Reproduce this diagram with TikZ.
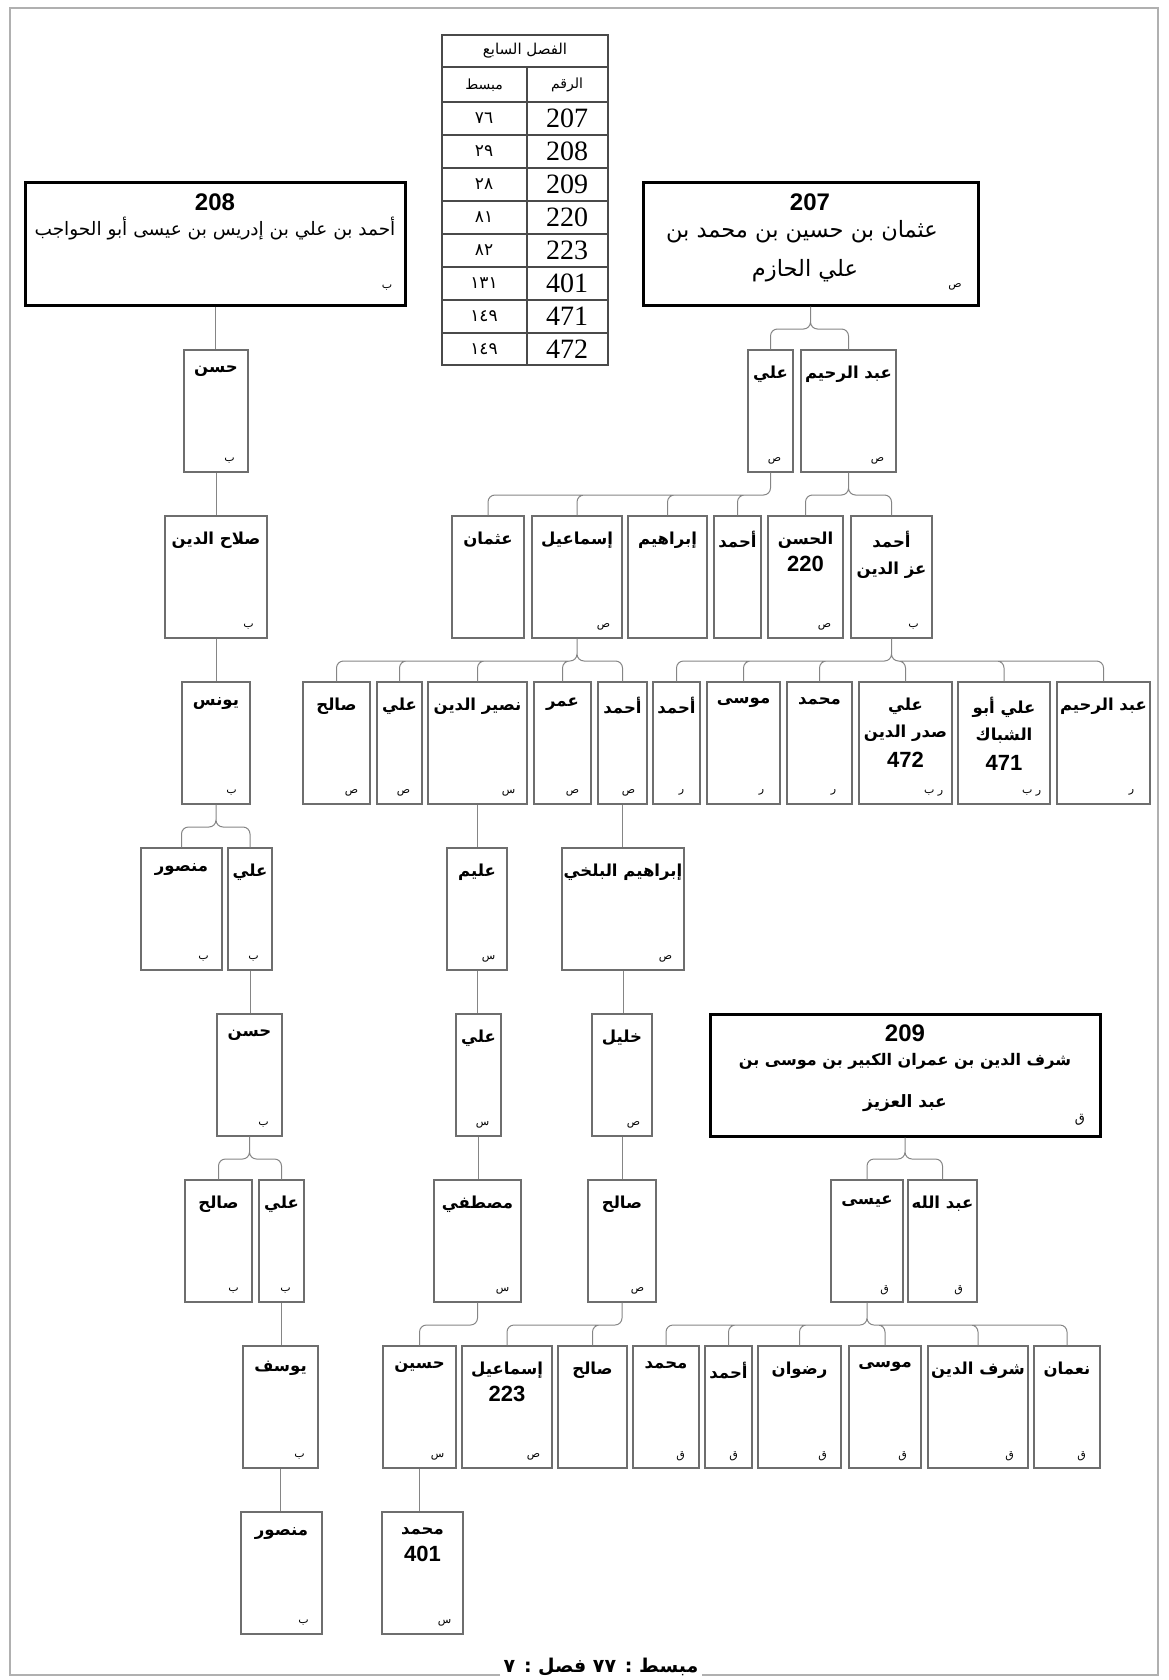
\documentclass[tikz,border=0pt]{standalone}
\usepackage{fontspec}
\setmainfont{Liberation Serif}
\newfontfamily\arabicfont[Script=Arabic]{DejaVu Sans}
\newfontfamily\numfont{Liberation Sans}
\TeXXeTstate=1
\definecolor{boxgray}{HTML}{6E6E6E}
\definecolor{linkgray}{HTML}{858585}
\definecolor{framegray}{HTML}{B0B0B0}
\definecolor{tablegray}{HTML}{4A4A4A}
\newcommand\ar[1]{\beginR#1\endR}
\newcommand\nb[1]{{\numfont\bfseries\fontsize{22}{24}\selectfont#1}}
% box: name, left, right, top, text, mark
\newcommand\kin[6]{%
  \node[kinbox, minimum width={#3pt-#2pt}] (#1) at ({(#2+#3)/2},{#4+61}) {};
  \node[kinname] (#1t) at ([yshift=-16pt]#1.north) {#5};
  \node[kinmark] (#1m) at ([xshift=-19pt,yshift=12pt]#1.south east) {#6};
}
\begin{document}
\begin{tikzpicture}[x=1pt, y=-1pt,
  kinbox/.style={draw=boxgray, line width=1.2pt, inner sep=0pt, minimum height=122pt},
  rootbox/.style={draw=black, line width=3pt, inner sep=0pt, minimum height=122pt},
  kinname/.style={font=\arabicfont\bfseries\fontsize{16.5}{27}\selectfont, align=center, inner sep=0pt, anchor=north},
  kinmark/.style={font=\arabicfont\fontsize{11}{12}\selectfont, inner sep=0pt},
  rootnum/.style={font=\numfont\bfseries\fontsize{24}{26}\selectfont, inner sep=0pt},
  rootname/.style={font=\arabicfont\fontsize{22.5}{24}\selectfont, inner sep=0pt},
  link/.style={draw=linkgray, line width=1pt, rounded corners=7pt},
  tabline/.style={draw=tablegray, line width=1.5pt},
  tabnum/.style={font=\fontsize{28}{30}\selectfont, inner sep=0pt},
  tabpage/.style={font=\arabicfont\fontsize{17}{18}\selectfont, inner sep=0pt},
  tabhead/.style={font=\arabicfont\fontsize{14}{15}\selectfont, inner sep=0pt},
  footer/.style={font=\arabicfont\bfseries\fontsize{19}{20}\selectfont, inner sep=3pt},
]
\useasboundingbox (0,0) rectangle (1169,1680);

% frame and footer
\node[footer, anchor=base] (foot) at (601,1672) {\ar{مبسط : ٧٧ فصل : ٧}};
\draw[framegray, line width=1.2pt] (foot.west |- 0,1675) -- (10,1675) -- (10,8) -- (1158,8) -- (1158,1675) -- (foot.east |- 0,1675);

% table
\draw[tabline] (442,35) rectangle (608,365);
\draw[tabline] (442,67) -- (608,67);
\draw[tabline] (527,67) -- (527,365);
\draw[tabline] (442,102) -- (608,102);
\draw[tabline] (442,135) -- (608,135);
\draw[tabline] (442,168) -- (608,168);
\draw[tabline] (442,201) -- (608,201);
\draw[tabline] (442,234) -- (608,234);
\draw[tabline] (442,267) -- (608,267);
\draw[tabline] (442,300) -- (608,300);
\draw[tabline] (442,333) -- (608,333);
\node[tabhead, font=\arabicfont\fontsize{15}{16}\selectfont] (tabtitle) at (525,51) {\ar{الفصل السابع}};
\node[tabhead] (colnum) at (567,85) {الرقم};
\node[tabhead] (colpage) at (484,85) {مبسط};
\node[tabnum] (n207) at (567,118.5) {207};  \node[tabpage] (p207) at (484,118.5) {٧٦};
\node[tabnum] (n208) at (567,151.5) {208};  \node[tabpage] (p208) at (484,151.5) {٢٩};
\node[tabnum] (n209) at (567,184.5) {209};  \node[tabpage] (p209) at (484,184.5) {٢٨};
\node[tabnum] (n220) at (567,217.5) {220};  \node[tabpage] (p220) at (484,217.5) {٨١};
\node[tabnum] (n223) at (567,250.5) {223};  \node[tabpage] (p223) at (484,250.5) {٨٢};
\node[tabnum] (n401) at (567,283.5) {401};  \node[tabpage] (p401) at (484,283.5) {١٣١};
\node[tabnum] (n471) at (567,316.5) {471};  \node[tabpage] (p471) at (484,316.5) {١٤٩};
\node[tabnum] (n472) at (567,349) {472};    \node[tabpage] (p472) at (484,349) {١٤٩};

% root 208
\node[rootbox, minimum width=380pt] (r208) at (215,244) {};
\node[rootnum] (r208n) at (215,202) {208};
\node[rootname, font=\arabicfont\fontsize{18.5}{20}\selectfont] (r208t) at (215,229) {\ar{أحمد بن علي بن إدريس بن عيسى أبو الحواجب}};
\node[kinmark] (r208m) at (387,288) {ب};

% root 207
\node[rootbox, minimum width=335pt] (r207) at (810.5,244) {};
\node[rootnum] (r207n) at (810,202) {207};
\node[rootname] (r207t) at (802,232) {\ar{عثمان بن حسين بن محمد بن}};
\node[rootname] (r207u) at (805,271) {\ar{علي الحازم}};
\node[kinmark] (r207m) at (955,287) {ص};

% root 209
\node[rootbox, minimum width=390pt] (r209) at (905,1075) {};
\node[rootnum] (r209n) at (905,1033) {209};
\node[rootname, font=\arabicfont\bfseries\fontsize{16}{18}\selectfont] (r209t) at (905,1061) {\ar{شرف الدين بن عمران الكبير بن موسى بن}};
\node[rootname, font=\arabicfont\bfseries\fontsize{17}{19}\selectfont] (r209u) at (905,1103) {\ar{عبد العزيز}};
\node[kinmark, font=\arabicfont\fontsize{13}{14}\selectfont] (r209m) at (1080,1120) {ق};

% line of 208
\kin{a1}{184}{248}{350}{حسن}{ب}
\kin{a2}{165}{267}{516}{\ar{صلاح الدين}}{ب}
\kin{a3}{182}{250}{682}{يونس}{ب}
\kin{a4}{141}{222}{848}{منصور}{ب}
\kin{a5}{228}{272}{848}{علي}{ب}
\kin{a6}{217}{282}{1014}{حسن}{ب}
\kin{a7}{185}{252}{1180}{صالح}{ب}
\kin{a8}{259}{304}{1180}{علي}{ب}
\kin{a9}{243}{318}{1346}{يوسف}{ب}
\kin{a10}{241}{322}{1512}{منصور}{ب}

% line of 207
\kin{b1}{748}{793}{350}{علي}{ص}
\kin{b2}{801}{896}{350}{\ar{عبد الرحيم}}{ص}
\kin{c1}{452}{524}{516}{عثمان}{}
\kin{c2}{532}{622}{516}{إسماعيل}{ص}
\kin{c3}{628}{707}{516}{إبراهيم}{}
\kin{c4}{714}{761}{516}{أحمد}{}
\kin{c5}{768}{843}{516}{الحسن\\\nb{220}}{ص}
\kin{c6}{851}{932}{516}{أحمد\\\ar{عز الدين}}{ب}
\kin{d1}{303}{370}{682}{صالح}{ص}
\kin{d2}{377}{422}{682}{علي}{ص}
\kin{d3}{428}{527}{682}{\ar{نصير الدين}}{س}
\kin{d4}{534}{591}{682}{عمر}{ص}
\kin{d5}{598}{647}{682}{أحمد}{ص}
\kin{d6}{653}{700}{682}{أحمد}{ر}
\kin{d7}{707}{780}{682}{موسى}{ر}
\kin{d8}{787}{852}{682}{محمد}{ر}
\kin{d9}{859}{952}{682}{علي\\\ar{صدر الدين}\\[3pt]\nb{472}}{\ar{ر ب}}
\kin{d10}{958}{1050}{682}{\ar{علي أبو}\\الشباك\\[3pt]\nb{471}}{\ar{ر ب}}
\kin{d11}{1057}{1150}{682}{\ar{عبد الرحيم}}{ر}
\kin{e1}{447}{507}{848}{عليم}{س}
\kin{e2}{562}{684}{848}{\ar{إبراهيم البلخي}}{ص}
\kin{e3}{456}{501}{1014}{علي}{س}
\kin{e4}{592}{652}{1014}{خليل}{ص}
\kin{e5}{434}{521}{1180}{مصطفي}{س}
\kin{e6}{588}{656}{1180}{صالح}{ص}
\kin{f1}{383}{456}{1346}{حسين}{س}
\kin{f2}{462}{552}{1346}{إسماعيل\\\nb{223}}{ص}
\kin{f3}{558}{627}{1346}{صالح}{}
\kin{f4}{382}{463}{1512}{محمد\\\nb{401}}{س}

% line of 209
\kin{g1}{831}{903}{1180}{عيسى}{ق}
\kin{g2}{908}{977}{1180}{\ar{عبد الله}}{ق}
\kin{h1}{633}{699}{1346}{محمد}{ق}
\kin{h2}{705}{752}{1346}{أحمد}{ق}
\kin{h3}{758}{841}{1346}{رضوان}{ق}
\kin{h4}{849}{921}{1346}{موسى}{ق}
\kin{h5}{928}{1028}{1346}{\ar{شرف الدين}}{ق}
\kin{h6}{1034}{1100}{1346}{نعمان}{ق}

% links of 208
\draw[link] (r208.south) -- (r208.south |- a1.north);
\draw[link] (a1.south) -- (a1.south |- a2.north);
\draw[link] (a2.south) -- (a2.south |- a3.north);
\draw[link] (a3.south) -- (a3.south |- 0,827) -| (a4.north)
            (a3.south) -- (a3.south |- 0,827) -| (a5.north);
\draw[link] (a5.south) -- (a5.south |- a6.north);
\draw[link] (a6.south) -- (a6.south |- 0,1159) -| (a7.north)
            (a6.south) -- (a6.south |- 0,1159) -| (a8.north);
\draw[link] (a8.south) -- (a8.south |- a9.north);
\draw[link] (a9.south) -- (a9.south |- a10.north);

% links of 207
\draw[link] (r207.south) -- (r207.south |- 0,329) -| (b1.north)
            (r207.south) -- (r207.south |- 0,329) -| (b2.north);
\draw[link] (b1.south) -- (b1.south |- 0,495) -| (c1.north)
            (b1.south) -- (b1.south |- 0,495) -| (c2.north)
            (b1.south) -- (b1.south |- 0,495) -| (c3.north)
            (b1.south) -- (b1.south |- 0,495) -| (c4.north);
\draw[link] (b2.south) -- (b2.south |- 0,495) -| (c5.north)
            (b2.south) -- (b2.south |- 0,495) -| (c6.north);
\draw[link] (c2.south) -- (c2.south |- 0,661) -| (d1.north)
            (c2.south) -- (c2.south |- 0,661) -| (d2.north)
            (c2.south) -- (c2.south |- 0,661) -| (d3.north)
            (c2.south) -- (c2.south |- 0,661) -| (d4.north)
            (c2.south) -- (c2.south |- 0,661) -| (d5.north);
\draw[link] (c6.south) -- (c6.south |- 0,661) -| (d6.north)
            (c6.south) -- (c6.south |- 0,661) -| (d7.north)
            (c6.south) -- (c6.south |- 0,661) -| (d8.north)
            (c6.south) -- (c6.south |- 0,661) -| (d9.north)
            (c6.south) -- (c6.south |- 0,661) -| (d10.north)
            (c6.south) -- (c6.south |- 0,661) -| (d11.north);
\draw[link] (d3.south) -- (d3.south |- e1.north);
\draw[link] (e1.south) -- (e1.south |- e3.north);
\draw[link] (e3.south) -- (e3.south |- e5.north);
\draw[link] (e5.south) -- (e5.south |- 0,1325) -| (f1.north);
\draw[link] (f1.south) -- (f1.south |- f4.north);
\draw[link] (d5.south) -- (d5.south |- e2.north);
\draw[link] (e2.south) -- (e2.south |- e4.north);
\draw[link] (e4.south) -- (e4.south |- e6.north);
\draw[link] (e6.south) -- (e6.south |- 0,1325) -| (f2.north)
            (e6.south) -- (e6.south |- 0,1325) -| (f3.north);

% links of 209
\draw[link] (r209.south) -- (r209.south |- 0,1159) -| (g1.north)
            (r209.south) -- (r209.south |- 0,1159) -| (g2.north);
\draw[link] (g1.south) -- (g1.south |- 0,1325) -| (h1.north)
            (g1.south) -- (g1.south |- 0,1325) -| (h2.north)
            (g1.south) -- (g1.south |- 0,1325) -| (h3.north)
            (g1.south) -- (g1.south |- 0,1325) -| (h4.north)
            (g1.south) -- (g1.south |- 0,1325) -| (h5.north)
            (g1.south) -- (g1.south |- 0,1325) -| (h6.north);
\end{tikzpicture}
\end{document}
